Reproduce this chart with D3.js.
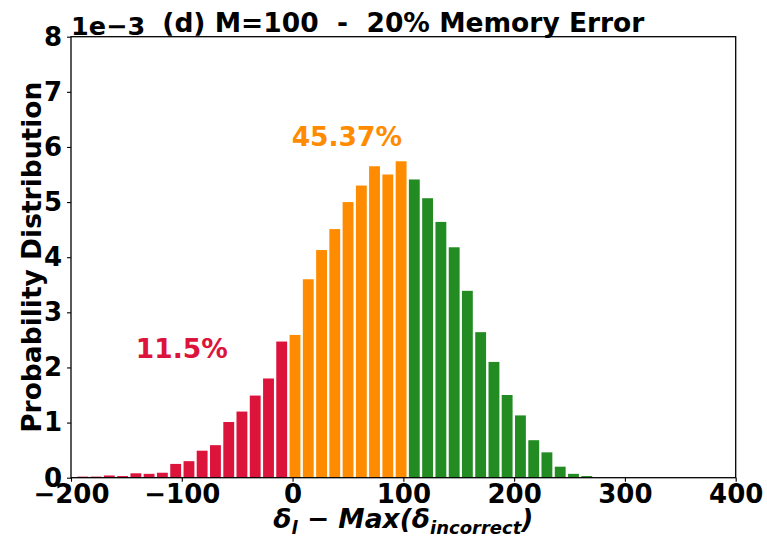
<!DOCTYPE html>
<html>
<head>
<meta charset="utf-8">
<script src="https://cdn.jsdelivr.net/npm/d3@7"></script>
<style>
  html, body { margin: 0; padding: 0; background: #fff; }
  svg text { font-family: "DejaVu Sans", sans-serif; font-weight: bold; }
</style>
</head>
<body>
<svg id="chart" width="767" height="537"></svg>
<script>
// left edge of each histogram bin (x units)
var binLefts = [-195.3, -183.3, -171.4, -159.4, -147.4, -135.5, -123.5, -111.5,
    -99.5, -87.6, -75.6, -63.6, -51.7, -39.7, -27.7, -15.8,
    -3.8, 8.2, 20.2, 32.1, 44.1, 56.1, 68.0, 80.0, 92.0,
    103.9, 115.9, 127.9, 139.9, 151.8, 163.8, 175.8, 187.7, 199.7, 211.7, 223.6, 235.6, 247.6, 259.6];
var binWidth = 11.97;
// densities, in units of 1e-3
var redDensity = [0.02, 0.02, 0.04, 0.03, 0.08, 0.07, 0.09, 0.25, 0.30, 0.49, 0.59, 1.01, 1.20, 1.49, 1.80, 2.47];
var orangeDensity = [2.59, 3.60, 4.13, 4.51, 5.00, 5.30, 5.65, 5.50, 5.74];
var greenDensity = [5.41, 5.07, 4.64, 4.18, 3.39, 2.64, 2.10, 1.50, 1.13, 0.68, 0.46, 0.20, 0.07, 0.03];
var xTicks = [-200, -100, 0, 100, 200, 300, 400];
var yTicks = [0, 1, 2, 3, 4, 5, 6, 7, 8];
var notes = [
    { text: "11.5%", x: -100, y: 2.17, color: "crimson" },
    { text: "45.37%", x: 49, y: 6.02, color: "darkorange" }
];
var title = "(d) M=100  -  20% Memory Error";

(function () {
    var svg = d3.select("#chart");
    var pLeft = 71, pRight = 735.7, pTop = 36.7, pBottom = 477.7;
    var gap = 2.4; // white edge between neighbouring bars
    var x = d3.scaleLinear().domain([-200, 400]).range([pLeft, pRight]);
    var y = d3.scaleLinear().domain([0, 8]).range([pBottom, pTop]);

    var bars = [];
    var addBars = function (vals, color) {
        vals.forEach(function (v) {
            bars.push({ x0: binLefts[bars.length], value: v, color: color });
        });
    };
    addBars(redDensity, "crimson");
    addBars(orangeDensity, "darkorange");
    addBars(greenDensity, "forestgreen");

    svg.append("g").selectAll("rect").data(bars).enter().append("rect")
        .attr("x", function (d) { return x(d.x0) + gap / 2; })
        .attr("y", function (d) { return y(d.value); })
        .attr("width", function (d) { return x(d.x0 + binWidth) - x(d.x0) - gap; })
        .attr("height", function (d) { return y(0) - y(d.value); })
        .attr("fill", function (d) { return d.color; });

    /*
        Axes
    */
    var xAxis = svg.append("g").attr("transform", "translate(0," + pBottom + ")")
        .call(d3.axisBottom(x).tickValues(xTicks).tickSize(4).tickPadding(3).tickFormat(d3.format("d")));
    var yAxis = svg.append("g").attr("transform", "translate(" + pLeft + ",0)")
        .call(d3.axisLeft(y).tickValues(yTicks).tickSize(4).tickPadding(5).tickFormat(d3.format("d")));
    [xAxis, yAxis].forEach(function (a) {
        a.select(".domain").remove();
        a.selectAll("line").attr("stroke", "#000").attr("stroke-width", 1.1);
        a.selectAll("text").attr("font-size", 26).attr("fill", "#000")
            .style("font-family", "'DejaVu Sans', sans-serif").style("font-weight", "bold");
    });
    svg.append("rect")
        .attr("x", pLeft).attr("y", pTop)
        .attr("width", pRight - pLeft).attr("height", pBottom - pTop)
        .attr("fill", "none").attr("stroke", "#000").attr("stroke-width", 1.3);

    svg.append("text")
        .attr("x", pLeft).attr("y", pTop - 2)
        .attr("font-size", 25.5)
        .text("1e\u22123");

    svg.append("text")
        .attr("x", (pLeft + pRight) / 2).attr("y", 32)
        .attr("text-anchor", "middle")
        .attr("font-size", 26.5)
        .style("white-space", "pre")
        .text(title);

    svg.append("text")
        .attr("transform", "translate(41," + (pTop + pBottom) / 2 + ") rotate(-90)")
        .attr("text-anchor", "middle")
        .attr("font-size", 26.5)
        .text("Probability Distribution");

    var xl = svg.append("text")
        .attr("x", (pLeft + pRight) / 2).attr("y", 528)
        .attr("text-anchor", "middle")
        .attr("font-size", 26.5)
        .attr("font-style", "italic");
    xl.append("tspan").text("\u03b4");
    xl.append("tspan").attr("font-size", 18).attr("dy", 6).text("l");
    xl.append("tspan").attr("dy", -6).text(" \u2212 Max(\u03b4");
    xl.append("tspan").attr("font-size", 18).attr("dy", 6).text("incorrect");
    xl.append("tspan").attr("dy", -6).text(")");

    svg.selectAll(".note").data(notes).enter().append("text")
        .attr("class", "note")
        .attr("x", function (d) { return x(d.x); })
        .attr("y", function (d) { return y(d.y); })
        .attr("text-anchor", "middle")
        .attr("font-size", 26.5)
        .attr("fill", function (d) { return d.color; })
        .text(function (d) { return d.text; });
})();
</script>
</body>
</html>
